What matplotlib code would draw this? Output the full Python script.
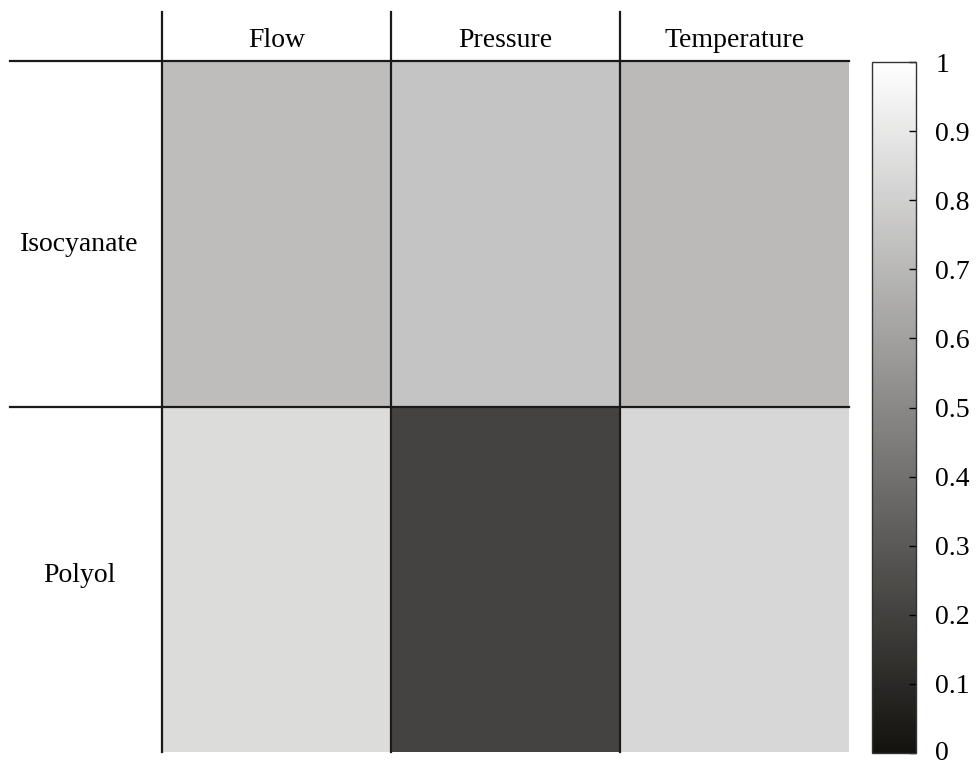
import numpy as np
import matplotlib.pyplot as plt
import matplotlib.transforms as mtransforms
from matplotlib.colors import LinearSegmentedColormap

plt.rcParams['font.family'] = ['Liberation Serif', 'DejaVu Serif']

rows = ['Isocyanate', 'Polyol']
cols = ['Flow', 'Pressure', 'Temperature']
values = np.array([[0.72, 0.75, 0.71],
                   [0.85, 0.21, 0.83]])
cbar_ticks = [0, 0.1, 0.2, 0.3, 0.4, 0.5, 0.6, 0.7, 0.8, 0.9, 1]
cbar_labels = ['0', '0.1', '0.2', '0.3', '0.4', '0.5', '0.6', '0.7', '0.8', '0.9', '1']

W, H = 978, 765
fig = plt.figure(figsize=(W / 100, H / 100), dpi=100)

def box(l, t, r, b):
    return [l / W, 1 - b / H, (r - l) / W, (b - t) / H]

cmap = LinearSegmentedColormap.from_list('g', ['#14120f', '#ffffff'])

# heatmap
ax = fig.add_axes(box(162, 61, 849, 752))
mesh = ax.pcolormesh(np.arange(4), np.arange(3), values, cmap=cmap, vmin=0, vmax=1)
ax.set_xlim(0, 3)
ax.set_ylim(2, 0)
ax.axis('off')

# grid lines reaching into the header row and label column
for xv in [0, 1, 2]:
    ax.plot([xv, xv], [2, -49 / 345.5], color='#1a1a1a', lw=1.6, clip_on=False)
for yv in [0, 1]:
    ax.plot([-152 / 229, 3], [yv, yv], color='#1a1a1a', lw=1.6, clip_on=False)

for i, c in enumerate(cols):
    ax.text(i + 0.5, -0.058, c, ha='center', va='center', fontsize=20)
for j, r in enumerate(rows):
    ax.text(-0.36, j + 0.53 - 0.04 * j, r, ha='center', va='center', fontsize=20)

# colorbar
cax = fig.add_axes(box(872, 62, 916, 753))
cb = fig.colorbar(mesh, cax=cax, ticks=cbar_ticks)
cb.ax.set_yticklabels(cbar_labels, fontsize=20)
cb.ax.tick_params(direction='in', length=5, width=1, pad=14)
cb.outline.set_linewidth(1)
cb.outline.set_edgecolor('#333333')

# nudge the bottom label so it stays inside the figure
lbl0 = cb.ax.get_yticklabels()[0]
lbl0.set_transform(lbl0.get_transform() +
                   mtransforms.ScaledTranslation(0, 3 / 100, fig.dpi_scale_trans))

plt.savefig('out.png', dpi=100)
